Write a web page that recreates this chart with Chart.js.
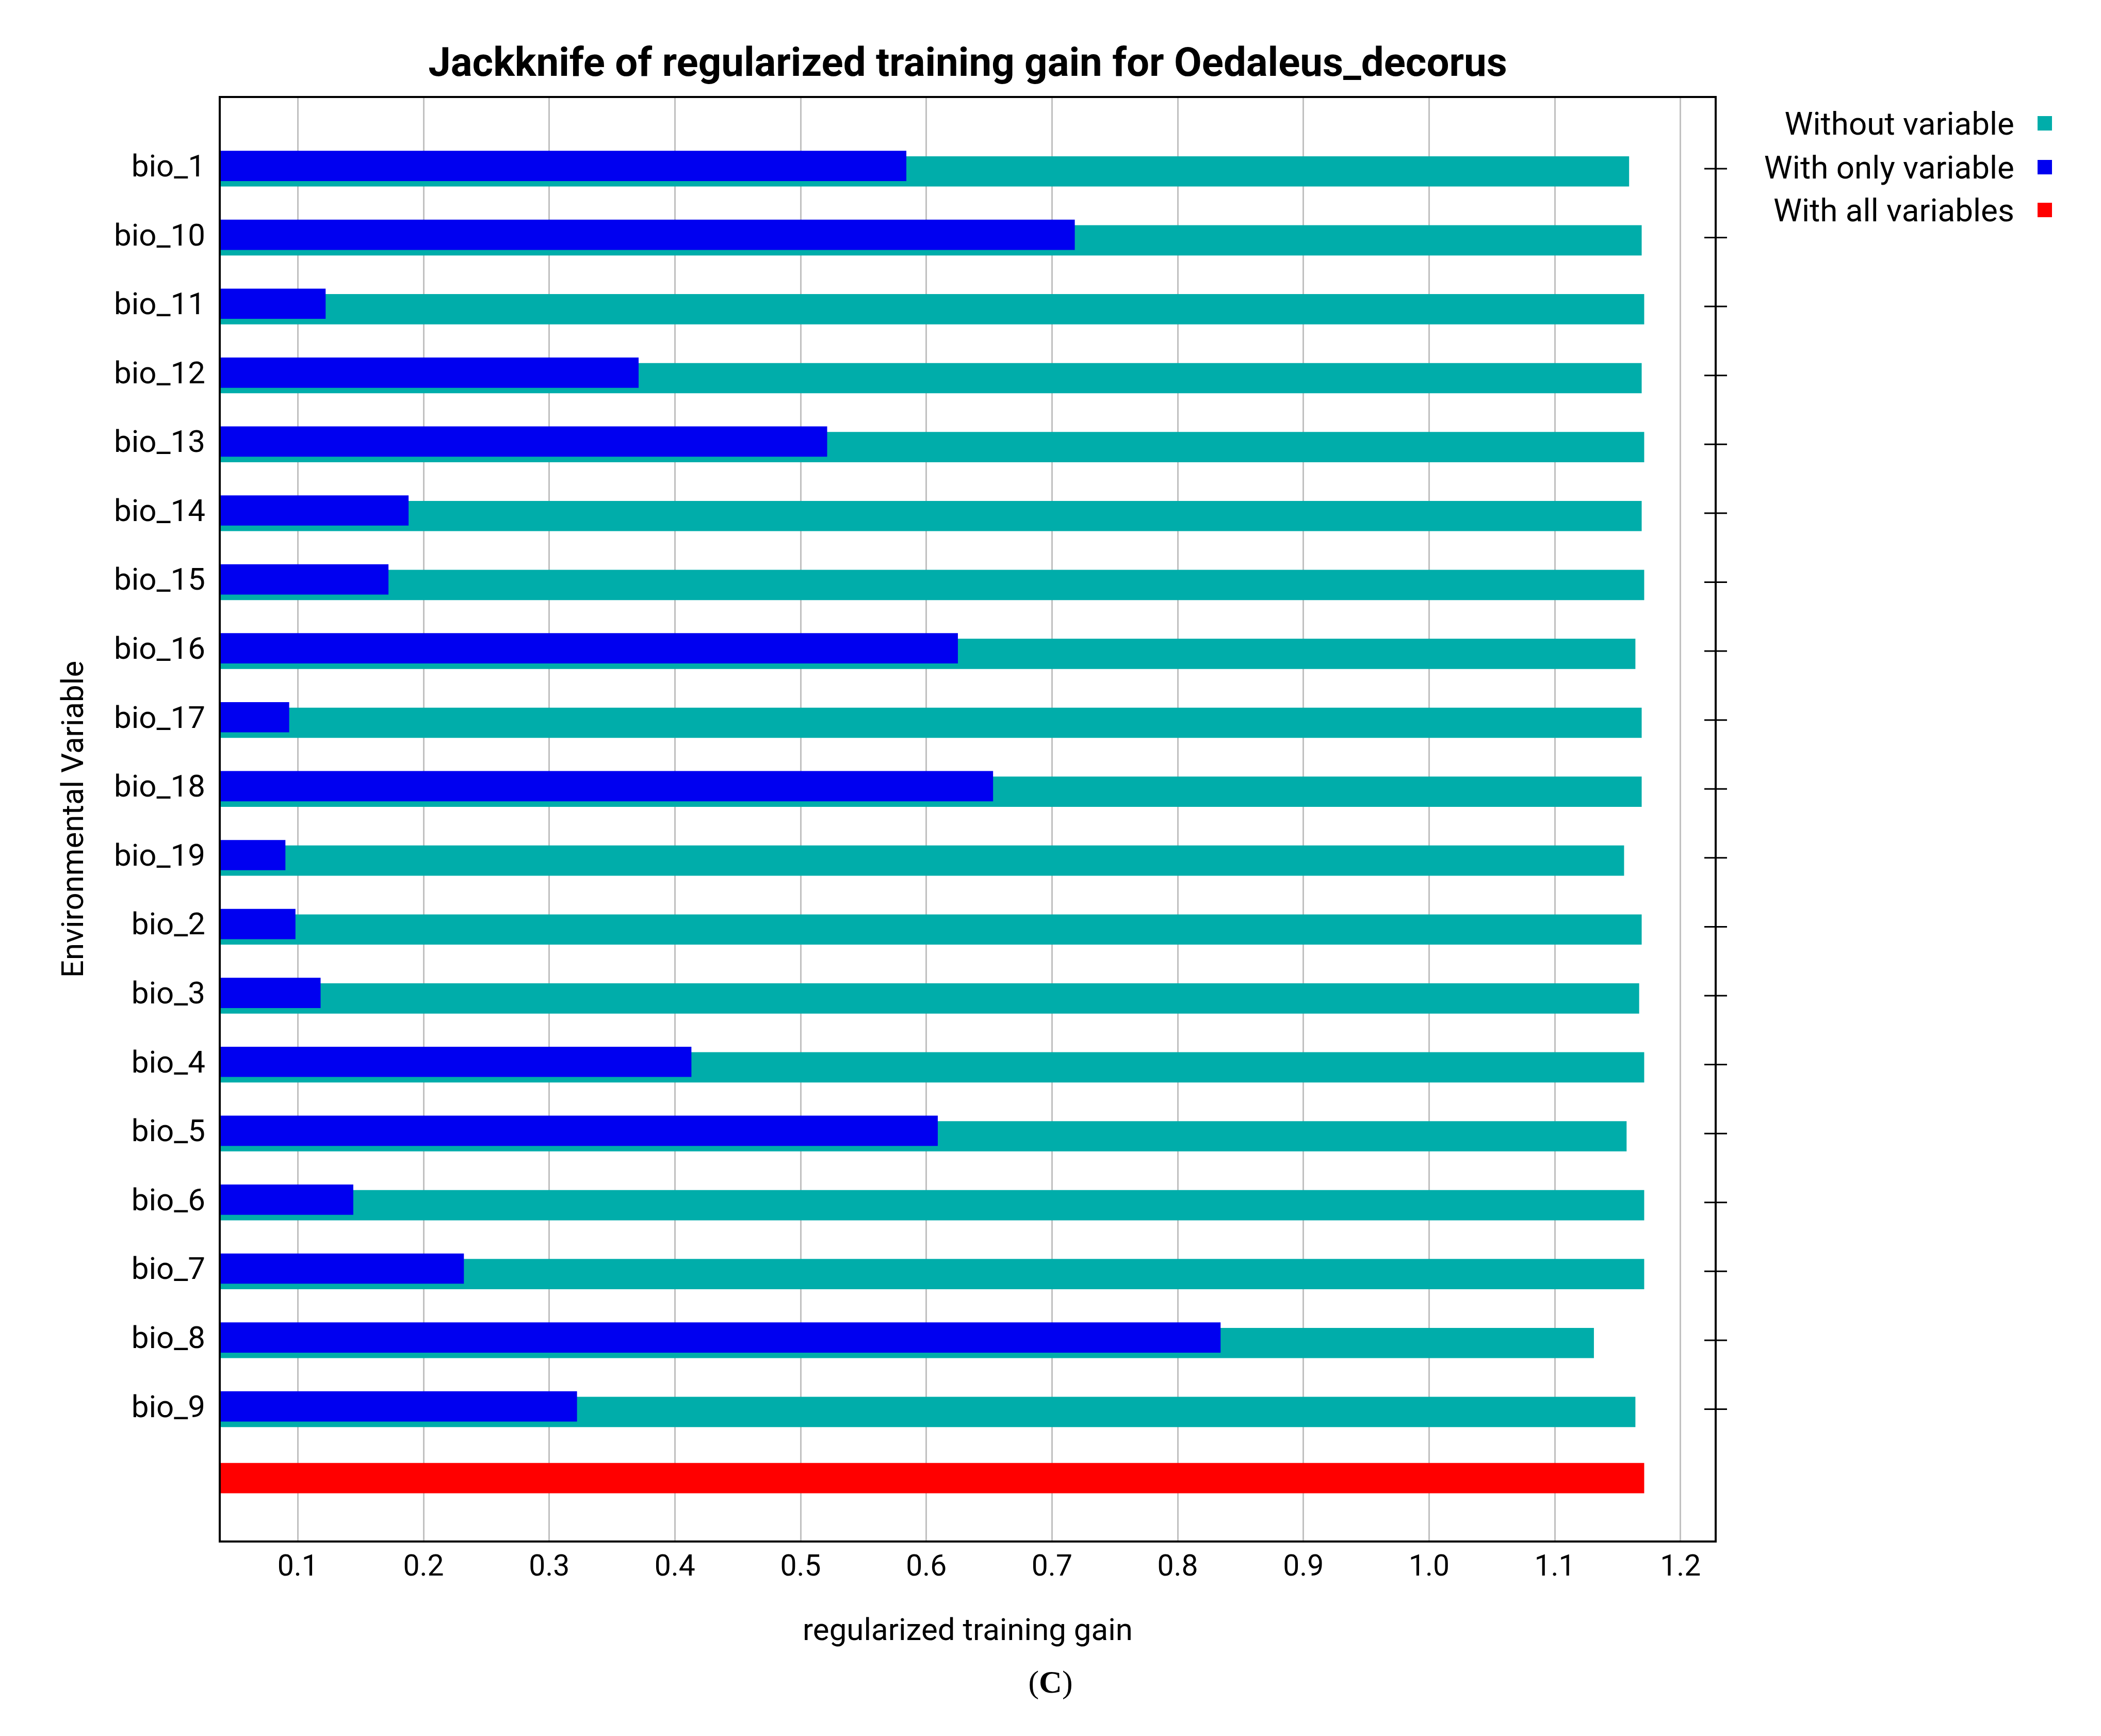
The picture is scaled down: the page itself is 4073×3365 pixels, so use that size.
<!DOCTYPE html>
<html>
<head>
<meta charset="utf-8">
<script src="https://cdn.jsdelivr.net/npm/chart.js@4"></script>
<style>
  body { margin: 0; background: #fff; }
  #wrap { position: relative; width: 4073px; height: 3365px; }
  #cap { position: absolute; left: 0; width: 4073px; top: 3225px; text-align: center;
         font: 62px "Liberation Serif", serif; }
</style>
</head>
<body>
<div id="wrap">
  <canvas id="chart" width="4073" height="3365"></canvas>
  <div id="cap">(<b>C</b>)</div>
</div>
<script>
const labels = ['bio_1','bio_10','bio_11','bio_12','bio_13','bio_14','bio_15','bio_16','bio_17','bio_18',
                'bio_19','bio_2','bio_3','bio_4','bio_5','bio_6','bio_7','bio_8','bio_9'];
const withoutVar = [1.159,1.169,1.171,1.169,1.171,1.169,1.171,1.164,1.169,1.169,
                    1.155,1.169,1.167,1.171,1.157,1.171,1.171,1.131,1.164];
const onlyVar = [0.584,0.718,0.122,0.371,0.521,0.188,0.172,0.625,0.093,0.653,
                 0.090,0.098,0.118,0.413,0.609,0.144,0.232,0.834,0.322];
const allVars = 1.171;

const teal = 'rgb(0,173,170)', blue = 'rgb(0,0,240)', red = 'rgb(255,0,0)';
const font = 'Roboto';

const extras = {
  id: 'extras',
  afterDraw(chart) {
    const { ctx, chartArea: a, scales } = chart;
    ctx.save();
    // frame
    ctx.strokeStyle = '#000'; ctx.lineWidth = 4;
    ctx.strokeRect(a.left, a.top, a.right - a.left, a.bottom - a.top);
    // right-side row ticks
    ctx.lineWidth = 3;
    labels.forEach((l, i) => {
      const y = scales.y.getPixelForValue(i);
      ctx.beginPath(); ctx.moveTo(a.right - 22, y); ctx.lineTo(a.right + 22, y); ctx.stroke();
    });
    // title
    ctx.fillStyle = '#000';
    ctx.font = 'bold 78px ' + font;
    ctx.textAlign = 'center'; ctx.textBaseline = 'middle';
    ctx.fillText('Jackknife of regularized training gain for Oedaleus_decorus', (a.left + a.right) / 2, 127);
    // legend
    ctx.font = '62px ' + font;
    ctx.textAlign = 'right';
    [['Without variable', teal, 245], ['With only variable', blue, 330], ['With all variables', red, 413]]
      .forEach(([t, c, y]) => {
        ctx.fillStyle = '#000'; ctx.fillText(t, 3905, y);
        ctx.fillStyle = c; ctx.fillRect(3950, y - 20, 28, 28);
      });
    ctx.restore();
  }
};

new Chart(document.getElementById('chart'), {
  type: 'bar',
  data: {
    datasets: [
      { label: 'With only variable', data: onlyVar.map((v, i) => ({ x: v, y: i - 0.04 })),
        backgroundColor: blue, barThickness: 58 },
      { label: 'Without variable', data: withoutVar.map((v, i) => ({ x: v, y: i + 0.04 })),
        backgroundColor: teal, barThickness: 58 },
      { label: 'With all variables', data: [{ x: allVars, y: 19 }],
        backgroundColor: red, barThickness: 58 },
    ],
  },
  options: {
    indexAxis: 'y',
    responsive: false,
    animation: false,
    layout: { padding: { left: 110, top: 188, right: 747, bottom: 165 } },
    plugins: { legend: { display: false }, title: { display: false }, tooltip: { enabled: false } },
    datasets: { bar: { grouped: false } },
    scales: {
      x: {
        type: 'linear', min: 0.0379, max: 1.228,
        afterBuildTicks: s => { s.ticks = [0.1,0.2,0.3,0.4,0.5,0.6,0.7,0.8,0.9,1.0,1.1,1.2].map(v => ({ value: v })); },
        afterFit: s => { s.height = 212; },
        ticks: { callback: v => v.toFixed(1), font: { family: font, size: 57 }, color: '#000', padding: 18 },
        grid: { color: '#c0c0c0', lineWidth: 3, drawTicks: false },
        border: { display: false },
        title: { display: true, text: 'regularized training gain', font: { family: font, size: 60 }, color: '#000', padding: 0 },
      },
      y: {
        type: 'linear', reverse: true, min: -1.04, max: 19.92, offset: false,
        afterBuildTicks: s => { s.ticks = labels.map((l, i) => ({ value: i })); },
        afterFit: s => { s.width = 316; },
        ticks: { callback: v => labels[v], font: { family: font, size: 60 }, color: '#000', padding: 20 },
        grid: { display: false },
        border: { display: false },
        title: { display: true, text: 'Environmental Variable', font: { family: font, size: 60 }, color: '#000', padding: 0 },
      },
    },
  },
  plugins: [extras],
});
</script>
</body>
</html>
